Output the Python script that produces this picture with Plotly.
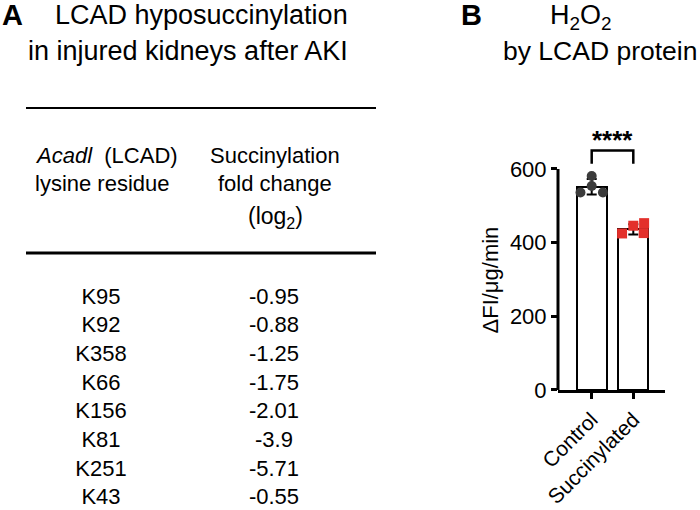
import plotly.graph_objects as go

# ---------------- Panel A: table data ----------------
residues = ["K95", "K92", "K358", "K66", "K156", "K81", "K251", "K43"]
fold_changes = [-0.95, -0.88, -1.25, -1.75, -2.01, -3.9, -5.71, -0.55]

# ---------------- Panel B: bar data ----------------
groups = ["Control", "Succinylated"]
group_means = [552, 436]
group_sd = [21, 14]
control_points = [581, 554, 536, 536]
control_jitter = [0.0, 0.0, -0.27, 0.27]
succ_points = [453, 446, 425, 426]
succ_jitter = [0.26, 0.0, -0.27, 0.25]
y_ticks = [0, 200, 400, 600]
signif = "****"

W, H = 700, 510
FONT = "Liberation Sans, Arial, Helvetica, sans-serif"
BLACK = "#000000"
RED = "#e3302b"
DARK = "#3c3c3c"

fig = go.Figure()

# ---------------- Panel B traces ----------------
fig.add_trace(go.Bar(
    x=[0, 1], y=group_means, width=0.72,
    marker=dict(color="white", line=dict(color=BLACK, width=2)),
    error_y=dict(type="data", array=group_sd, color=BLACK, thickness=2, width=5),
    xaxis="x", yaxis="y", showlegend=False, hoverinfo="skip",
))
fig.add_trace(go.Scatter(
    x=[0 + j for j in control_jitter], y=control_points, mode="markers",
    marker=dict(symbol="circle", size=10, color=DARK),
    xaxis="x", yaxis="y", showlegend=False, hoverinfo="skip",
))
fig.add_trace(go.Scatter(
    x=[1 + j for j in succ_jitter], y=succ_points, mode="markers",
    marker=dict(symbol="square", size=10, color=RED),
    xaxis="x", yaxis="y", showlegend=False, hoverinfo="skip",
))

# ---------------- Panel A table as text traces ----------------
rows = list(range(len(residues)))
fig.add_trace(go.Scatter(
    x=[0] * len(residues), y=rows, text=residues, mode="text",
    textposition="middle center",
    textfont=dict(size=22, color=BLACK, family=FONT),
    xaxis="x2", yaxis="y2", showlegend=False, hoverinfo="skip",
))
fig.add_trace(go.Scatter(
    x=[1] * len(fold_changes), y=rows, text=[str(v) for v in fold_changes],
    mode="text", textposition="middle center",
    textfont=dict(size=22, color=BLACK, family=FONT),
    xaxis="x2", yaxis="y2", showlegend=False, hoverinfo="skip",
))

# ---------------- geometry of panel B ----------------
X_LEFT_PX, X_RIGHT_PX = 558, 665
CAT0_PX, CAT_STEP_PX = 591.7, 41.6
Y0_PX, Y600_PX = 390, 169
px_per_unit = (Y0_PX - Y600_PX) / 600.0
YMAX = 730
y_top_px = Y0_PX - YMAX * px_per_unit

# table geometry: row index coordinates
ROW0_PX, ROW_STEP_PX = 298, 28.7
COL0_PX, COL_STEP_PX = 101, 173
TABLE_RIGHT_PX = 400

def row_of(px):
    return (px - ROW0_PX) / ROW_STEP_PX

def col_of(px):
    return (px - COL0_PX) / COL_STEP_PX

axis_common = dict(showgrid=False, zeroline=False, color=BLACK)

fig.update_layout(
    width=W, height=H, margin=dict(l=0, r=0, t=0, b=0, pad=0, autoexpand=False),
    paper_bgcolor="white", plot_bgcolor="white",
    font=dict(family=FONT, color=BLACK),
    bargap=0,
    xaxis=dict(
        domain=[X_LEFT_PX / W, X_RIGHT_PX / W],
        range=[(X_LEFT_PX - CAT0_PX) / CAT_STEP_PX, (X_RIGHT_PX - CAT0_PX) / CAT_STEP_PX],
        tickvals=[0, 1], ticktext=groups, tickangle=-45,
        ticks="outside", ticklen=6, tickwidth=3, tickcolor=BLACK,
        showline=True, linewidth=3, linecolor=BLACK,
        tickfont=dict(size=21, family=FONT, color=BLACK),
        anchor="y", automargin=False, **axis_common,
    ),
    yaxis=dict(
        domain=[1 - Y0_PX / H, 1 - y_top_px / H],
        range=[0, YMAX],
        tickvals=y_ticks, ticks="outside", ticklen=6, tickwidth=3, tickcolor=BLACK,
        showline=False,
        tickfont=dict(size=22, family=FONT, color=BLACK),
        anchor="x", automargin=False, **axis_common,
    ),
    xaxis2=dict(
        domain=[0, TABLE_RIGHT_PX / W],
        range=[col_of(0), col_of(TABLE_RIGHT_PX)],
        visible=False, anchor="y2", **axis_common,
    ),
    yaxis2=dict(
        domain=[0, 1],
        range=[row_of(H), row_of(0)],
        visible=False, anchor="x2", **axis_common,
    ),
)

shapes = []
# y axis line only up to 600
shapes.append(dict(type="line", xref="x domain", yref="y", x0=0, x1=0, y0=0, y1=600,
                   line=dict(color=BLACK, width=3)))
# significance bracket
shapes.append(dict(type="path", xref="x", yref="y",
                   path="M 0,614 L 0,650 L 1,650 L 1,614",
                   line=dict(color=BLACK, width=2.5)))
# table rules
shapes.append(dict(type="line", xref="x2", yref="y2",
                   x0=col_of(26), x1=col_of(376), y0=row_of(108), y1=row_of(108),
                   line=dict(color=BLACK, width=2)))
shapes.append(dict(type="line", xref="x2", yref="y2",
                   x0=col_of(26), x1=col_of(376), y0=row_of(253), y1=row_of(253),
                   line=dict(color=BLACK, width=3)))
fig.update_layout(shapes=shapes)

ann = []
def add_text(text, x, y, size, xref="paper", yref="paper", xanchor="center", **kw):
    ann.append(dict(text=text, x=x, y=y, xref=xref, yref=yref, xanchor=xanchor,
                    yanchor="middle", showarrow=False,
                    font=dict(size=size, family=FONT, color=BLACK), **kw))

# panel letters
add_text("<b>A</b>", 0 / W, 1 - 15 / H, 29, xanchor="left")
add_text("<b>B</b>", 459 / W, 1 - 15 / H, 29, xanchor="left")
# panel A title
add_text("LCAD hyposuccinylation", 201 / W, 1 - 15 / H, 27)
add_text("in injured kidneys after AKI", 188 / W, 1 - 51 / H, 27)
# panel B title
add_text("H<sub>2</sub>O<sub>2</sub>", 581 / W, 1 - 17 / H, 27)
add_text("by LCAD protein", 600 / W, 1 - 51 / H, 26.5)
# table header
add_text("<i>Acadl</i>  (LCAD)", col_of(33), row_of(155), 22, xref="x2", yref="y2", xanchor="left")
add_text("lysine residue", col_of(33), row_of(183), 22, xref="x2", yref="y2", xanchor="left")
add_text("Succinylation", col_of(275), row_of(155), 22, xref="x2", yref="y2")
add_text("fold change", col_of(275), row_of(183), 22, xref="x2", yref="y2")
add_text("(log<sub>2</sub>)", col_of(275), row_of(217), 23, xref="x2", yref="y2")
# y axis title
add_text("ΔFI/μg/min", 490 / W, 300, 22, yref="y", textangle=-90)
# stars
add_text("<b>" + signif + "</b>", 0.5, 680, 26, xref="x", yref="y")
fig.update_layout(annotations=ann)

fig.write_html("out.html")
